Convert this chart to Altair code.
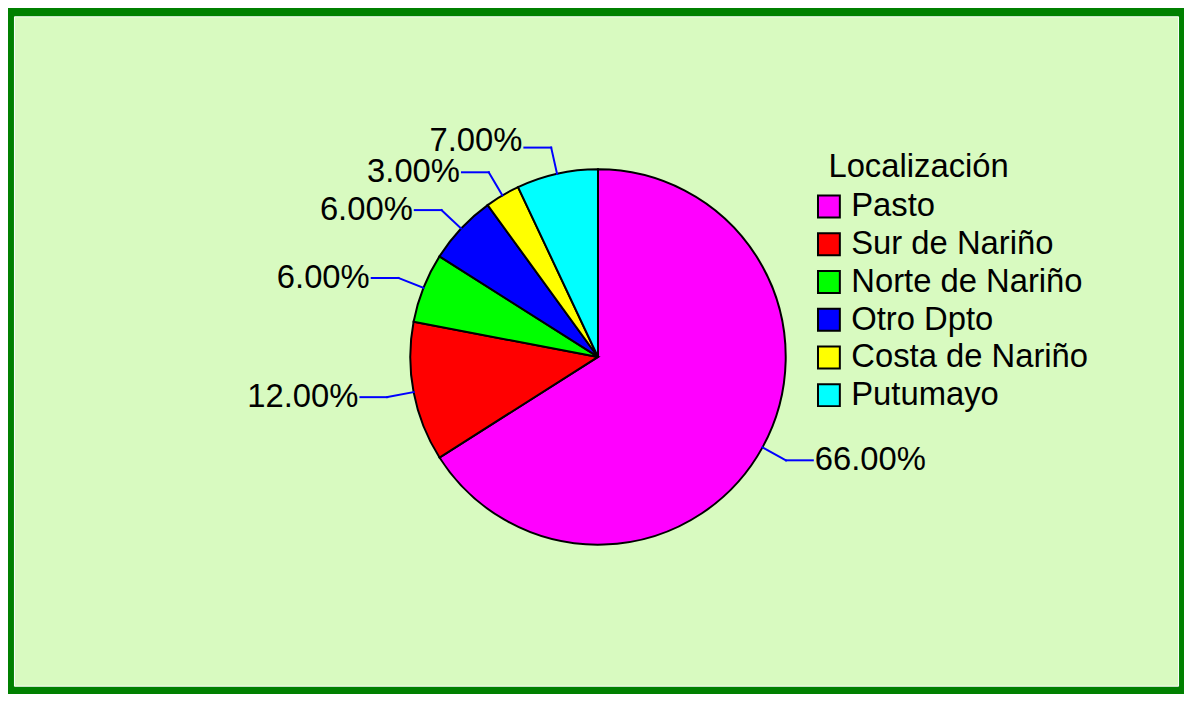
import altair as alt
import pandas as pd

# ---- data -------------------------------------------------------------
categories = ["Pasto", "Sur de Nariño", "Norte de Nariño", "Otro Dpto",
              "Costa de Nariño", "Putumayo"]
percentages = [66, 12, 6, 6, 3, 7]
colors = ["#FF00FF", "#FF0000", "#00FF00", "#0000FF", "#FFFF00", "#00FFFF"]
legend_title = "Localización"

df = pd.DataFrame({"cat": categories, "val": percentages,
                   "idx": list(range(len(categories)))})

# ---- layout -----------------------------------------------------------
W, H = 1172, 674          # view size (padding 6 on each side)
CX, CY, R = 588, 343, 189  # pie centre / radius in view pixels
R_ELBOW = 216
ARM = 27
MIN_GAP = 31
FONT = "Liberation Sans"
FS = 33

base = alt.Chart(df)

pie = base.mark_arc(radius=R, stroke="black", strokeWidth=2).encode(
    theta=alt.Theta("val:Q", stack=True),
    color=alt.Color(
        "cat:N",
        title=None,
        scale=alt.Scale(domain=categories, range=colors),
        legend=alt.Legend(
            orient="none", legendX=804, legendY=175,
            labelFont=FONT, labelFontSize=FS, labelColor="black",
            symbolType="square", symbolSize=484, symbolStrokeColor="black",
            symbolStrokeWidth=2, symbolOpacity=1, labelOffset=6,
            rowPadding=4, padding=0, labelLimit=400,
        ),
    ),
    order=alt.Order("idx:Q"),
    x=alt.value(CX),
    y=alt.value(CY),
)

geo = (
    base.transform_window(cum="sum(val)", sort=[alt.SortField("idx")])
    .transform_joinaggregate(total="sum(val)")
    .transform_calculate(
        a="2*PI*(datum.cum - datum.val/2)/datum.total",
    )
    .transform_calculate(
        s="sin(datum.a)",
        c="cos(datum.a)",
        side="sin(datum.a) >= 0 ? 1 : -1",
    )
    .transform_calculate(
        x0=f"{CX} + {R}*datum.s",
        y0=f"{CY} - {R}*datum.c",
        x1=f"{CX} + {R_ELBOW}*datum.s",
        y1=f"{CY} - {R_ELBOW}*datum.c",
    )
    .transform_window(prev_y="lag(y1)", sort=[alt.SortField("idx")])
    .transform_calculate(
        x2=f"datum.x1 + datum.side*{ARM}",
        lx=f"datum.x1 + datum.side*{ARM + 2}",
        ly=f"datum.prev_y == null ? datum.y1 : min(datum.y1, datum.prev_y - {MIN_GAP})",
        label="format(datum.val/100, '.2%')",
    )
)

radial = geo.mark_rule(color="#0000FF", strokeWidth=2, strokeCap="square").encode(
    x=alt.X("x0:Q", scale=None), y=alt.Y("y0:Q", scale=None),
    x2="x1:Q", y2="y1:Q",
)
arm = geo.mark_rule(color="#0000FF", strokeWidth=2, strokeCap="square").encode(
    x=alt.X("x1:Q", scale=None), y=alt.Y("y1:Q", scale=None),
    x2="x2:Q", y2="y1:Q",
)
labels_right = geo.transform_filter("datum.side > 0").mark_text(
    align="left", baseline="middle", font=FONT, fontSize=FS, color="black"
).encode(x=alt.X("lx:Q", scale=None), y=alt.Y("ly:Q", scale=None), text="label:N")
labels_left = geo.transform_filter("datum.side < 0").mark_text(
    align="right", baseline="middle", font=FONT, fontSize=FS, color="black"
).encode(x=alt.X("lx:Q", scale=None), y=alt.Y("ly:Q", scale=None), text="label:N")

title_text = alt.Chart(pd.DataFrame({"t": [legend_title]})).mark_text(
    align="left", baseline="alphabetic", font=FONT, fontSize=FS, color="black"
).encode(text="t:N", x=alt.value(820), y=alt.value(162))

chart = (
    alt.layer(pie, radial, arm, labels_right, labels_left, title_text)
    .properties(width=W, height=H, autosize="none", padding=6,
                background="#008000")
    .configure_view(fill="#D8FAC0", stroke="white", strokeWidth=1)
)

chart.save("out.html", embed_options={"renderer": "svg", "actions": False})
